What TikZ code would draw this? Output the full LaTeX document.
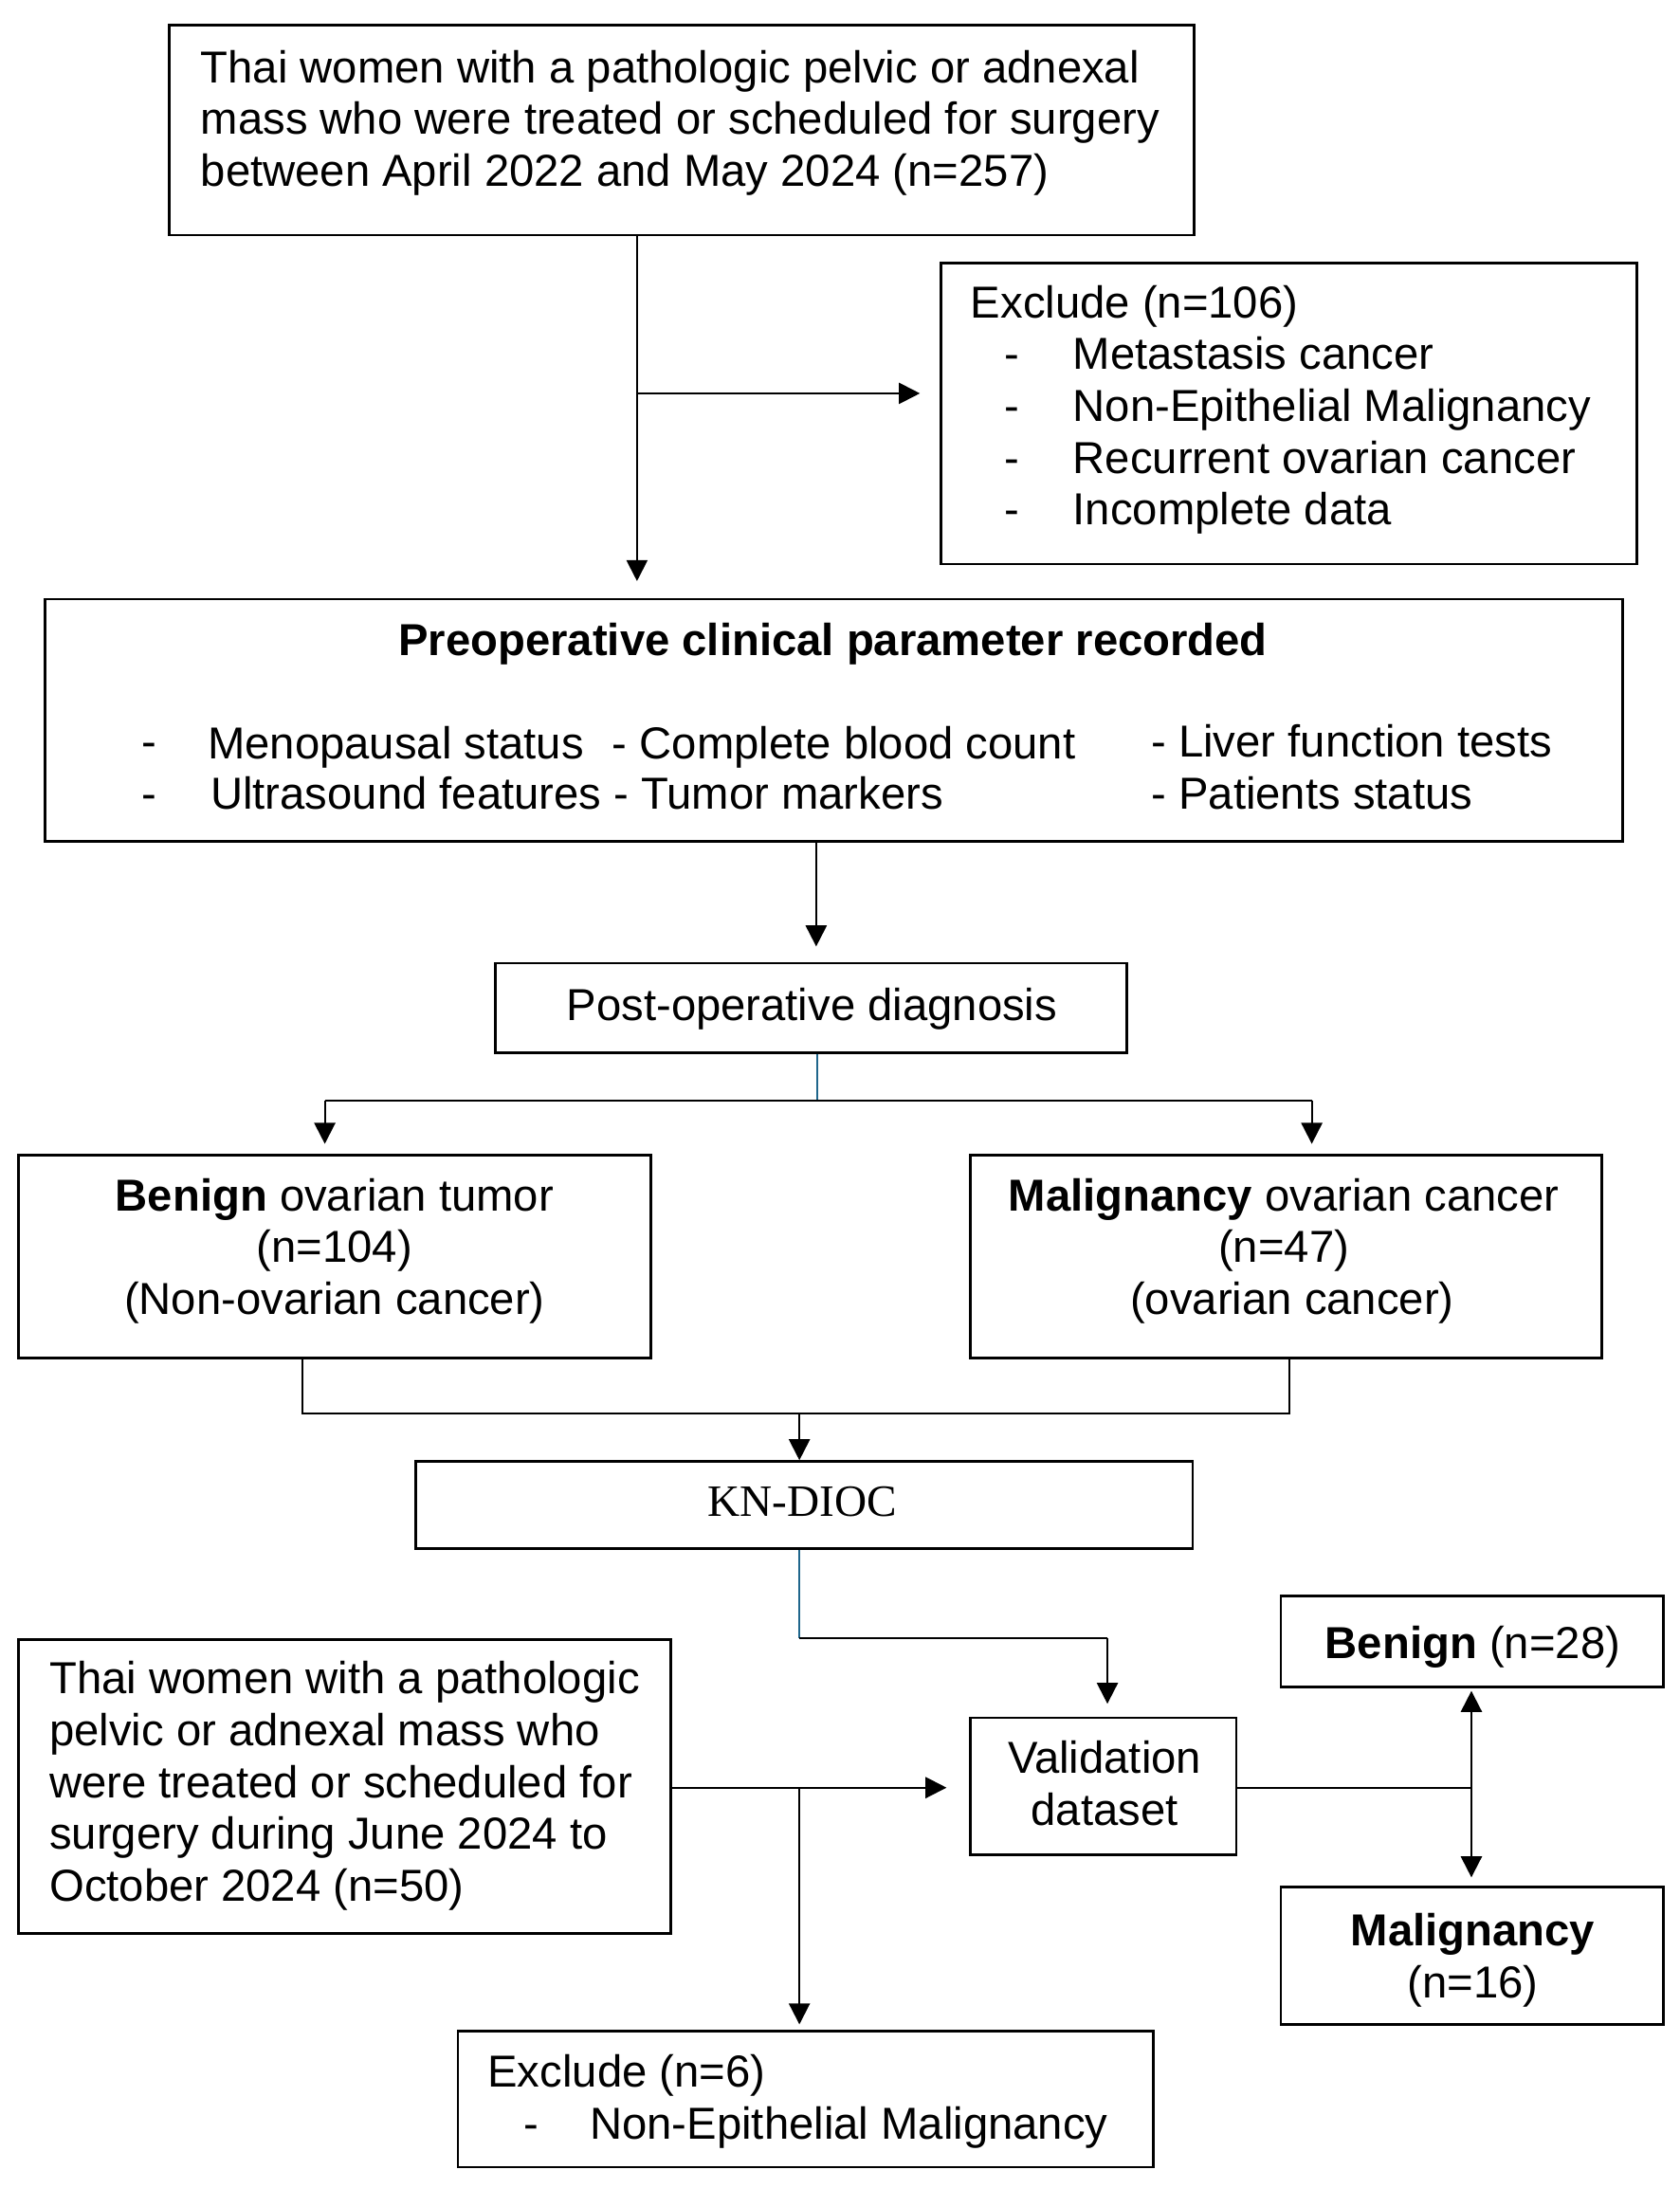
\documentclass[tikz,border=0pt]{standalone}
\usepackage{fontspec}
\setmainfont{Liberation Sans}
\newfontfamily\tnr{Liberation Serif}
\usetikzlibrary{arrows.meta}
\definecolor{linkblue}{RGB}{31,102,140}
\tikzset{
  box/.style={draw=black, line width=0.9pt, inner sep=0pt, rectangle},
  txt/.style={inner sep=0pt, font=\fontsize{16}{18.5}\selectfont},
  conn/.style={draw=black, line width=0.7pt},
  arr/.style={conn, -{Triangle[length=7.5pt,width=7.5pt]}},
}
\newcommand{\bxnode}[5]{\node[box, minimum width=#4*0.5pt, minimum height=#5*0.5pt] (#1) at (#2,#3) {};}
\begin{document}
\begin{tikzpicture}[x=0.5pt,y=-0.5pt]
\useasboundingbox (0,0) rectangle (1200,1563);
% boxes
\bxnode{top}{487}{93}{732}{150}
\bxnode{exa}{920.5}{295.5}{497}{215}
\bxnode{pre}{595.5}{514.5}{1127}{173}
\bxnode{post}{579.5}{720}{451}{64}
\bxnode{ben}{239}{897.5}{452}{145}
\bxnode{mal}{918.5}{897.5}{451}{145}
\bxnode{kn}{574.5}{1075}{555}{62}
\bxnode{val}{788}{1276}{190}{98}
\bxnode{lft}{246}{1276}{466}{210}
\bxnode{exb}{575.5}{1499.5}{497}{97}
\bxnode{bt}{1051.5}{1172.5}{273}{65}
\bxnode{mt}{1051.5}{1397}{273}{98}
% texts (multi-line nodes are placed by the baseline of their last line)
\node[txt, anchor=base west, align=left] (ttop) at (143,133) {Thai women with a pathologic pelvic or adnexal\\mass who were treated or scheduled for surgery\\between April 2022 and May 2024 (n=257)};
\node[txt, anchor=base west] (texa) at (693,227) {Exclude (n=106)};
\node[txt, anchor=base west, align=left] (texd) at (717,375) {-\\-\\-\\-};
\node[txt, anchor=base west, align=left] (texi) at (766,375) {Metastasis cancer\\Non-Epithelial Malignancy\\Recurrent ovarian cancer\\Incomplete data};
\node[txt, anchor=base, font=\fontsize{16}{18.5}\selectfont\bfseries] (tpre) at (595,468) {Preoperative clinical parameter recorded};
\node[txt, anchor=base west, align=left] (tpd) at (101,578) {-\\-};
\node[txt, anchor=base west] (tp1) at (148,542) {Menopausal status};
\node[txt, anchor=base west] (tp2) at (437,542) {- Complete blood count};
\node[txt, anchor=base west] (tp3) at (150,578) {Ultrasound features - Tumor markers};
\node[txt, anchor=base west, align=left] (tp4) at (822,578) {- Liver function tests\\- Patients status};
\node[txt, anchor=base] (tpost) at (580,729) {Post-operative diagnosis};
\node[txt, anchor=base, align=center] (tben) at (239,939) {\textbf{Benign} ovarian tumor\\(n=104)\\(Non-ovarian cancer)};
\node[txt, anchor=base, align=center] (tmal) at (917,939) {\textbf{Malignancy} ovarian cancer\\(n=47)\\\hspace*{6pt}(ovarian cancer)};
\node[txt, anchor=base, font=\fontsize{16}{18.5}\selectfont\tnr] (tkn) at (573,1083) {KN-DIOC};
\node[txt, anchor=base, align=center] (tval) at (789,1304) {Validation\\dataset};
\node[txt, anchor=base west, align=left] (tlft) at (35,1358) {Thai women with a pathologic\\pelvic or adnexal mass who\\were treated or scheduled for\\surgery during June 2024 to\\October 2024 (n=50)};
\node[txt, anchor=base west] (texb) at (348,1491) {Exclude (n=6)};
\node[txt, anchor=base west] (texbd) at (374,1528) {-};
\node[txt, anchor=base west] (texbi) at (421,1528) {Non-Epithelial Malignancy};
\node[txt, anchor=base] (tbt) at (1052,1185) {\textbf{Benign} (n=28)};
\node[txt, anchor=base, align=center] (tmt) at (1052,1427) {\textbf{Malignancy}\\(n=16)};
% helper coordinates
\coordinate (c1) at (455,281);
\coordinate (c2) at (583,0);
\coordinate (j1) at (584,786);
\coordinate (jb) at (232,786);
\coordinate (jm) at (937,786);
\coordinate (k1) at (216,1010);
\coordinate (k2) at (921,1010);
\coordinate (kc) at (571,1010);
\coordinate (v1) at (571,1170);
\coordinate (v2) at (791,1170);
\coordinate (w1) at (571,1277);
\coordinate (r1) at (1051,1277);
% connectors
\draw[arr, shorten >=6pt] (top.south -| c1) -- (pre.north -| c1);
\draw[arr, shorten >=7pt] (c1) -- (exa.west |- c1);
\draw[arr, shorten >=5.5pt] (pre.south -| c2) -- (post.north -| c2);
\draw[draw=linkblue, line width=0.7pt] (post.south -| j1) -- (j1);
\draw[conn] (jb) -- (jm);
\draw[arr, shorten >=3.5pt] (jb) -- (ben.north -| jb);
\draw[arr, shorten >=3.5pt] (jm) -- (mal.north -| jm);
\draw[conn] (ben.south -| k1) -- (k1) -- (k2) -- (mal.south -| k2);
\draw[arr] (kc) -- (kn.north -| kc);
\draw[draw=linkblue, line width=0.7pt] (kn.south -| v1) -- (v1);
\draw[conn] (v1) -- (v2);
\draw[arr, shorten >=4.5pt] (v2) -- (val.north -| v2);
\draw[arr, shorten >=8pt] (lft.east |- w1) -- (val.west |- w1);
\draw[arr, shorten >=2pt] (w1) -- (exb.north -| w1);
\draw[conn] (val.east |- r1) -- (r1);
\draw[arr, shorten >=1pt] (r1) -- (bt.south -| r1);
\draw[arr, shorten >=3pt] (r1) -- (mt.north -| r1);
\end{tikzpicture}
\end{document}
